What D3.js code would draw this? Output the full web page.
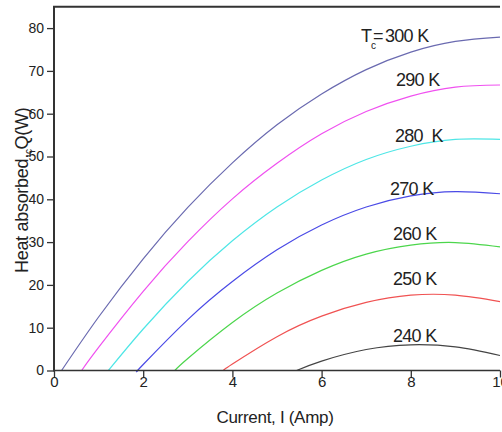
<!DOCTYPE html>
<html>
<head>
<meta charset="utf-8">
<script src="https://cdn.jsdelivr.net/npm/d3@7"></script>
<style>
    body { margin: 0; background: #fff; }
    text { font-family: "Liberation Sans", Arial, sans-serif; fill: #222; }
</style>
</head>
<body>
<div id="wrapper"></div>
<script>
// Current values (Amp) where each curve is sampled
const current300 = [0.17, 1, 2, 3, 4, 5, 6, 7, 8, 9, 10]
const heat300 = [0, 12.5, 26.1, 38.1, 48.5, 57.4, 64.6, 70.3, 74.4, 76.9, 77.9]

const current290 = [0.62, 1, 2, 3, 4, 5, 6, 7, 8, 9, 10]
const heat290 = [0, 5.4, 18.5, 30.1, 40.1, 48.4, 55.3, 60.5, 64.1, 66.2, 66.7]

const current280 = [1.22, 2, 3, 4, 5, 6, 7, 8, 9, 10]
const heat280 = [0, 9.7, 20.8, 30.3, 38.2, 44.5, 49.3, 52.4, 54.0, 54.0]

const current270 = [1.88, 2, 3, 4, 5, 6, 7, 8, 9, 10]
const heat270 = [0, 1.4, 11.9, 20.8, 28.2, 34.0, 38.2, 40.8, 41.8, 41.3]

const current260 = [2.71, 3, 4, 5, 6, 7, 8, 9, 10]
const heat260 = [0, 2.8, 11.2, 18.1, 23.4, 27.2, 29.3, 29.9, 28.9]

const current250 = [3.8, 4, 5, 6, 7, 8, 9, 10]
const heat250 = [0, 1.5, 7.9, 12.7, 15.9, 17.6, 17.6, 16.1]

const current240 = [5.44, 6, 7, 8, 9, 10]
const heat240 = [0, 2.2, 4.9, 6.0, 5.5, 3.5]

const curveLabels = ["300 K", "290 K", "280  K", "270 K", "260 K", "250 K", "240 K"]
const xTicks = [0, 2, 4, 6, 8, 10]
const yTicks = [0, 10, 20, 30, 40, 50, 60, 70, 80]

function drawChart() {
    // Put the series together
    const series = [
        { label: curveLabels[0], color: "#6a6ab0", x: current300, y: heat300 },
        { label: curveLabels[1], color: "#f050f0", x: current290, y: heat290 },
        { label: curveLabels[2], color: "#4ee6e6", x: current280, y: heat280 },
        { label: curveLabels[3], color: "#4a4ae6", x: current270, y: heat270 },
        { label: curveLabels[4], color: "#4cd64c", x: current260, y: heat260 },
        { label: curveLabels[5], color: "#f05252", x: current250, y: heat250 },
        { label: curveLabels[6], color: "#444444", x: current240, y: heat240 },
    ]
    series.forEach(s => {
        s.points = s.x.map((d, i) => ({ current: d, heat: s.y[i] }))
    })

    // Accessors
    const xAccessor = d => d.current
    const yAccessor = d => d.heat

    // Dimensions
    const dimensions = {
        width: 502,
        height: 432,
        margins: { top: 6.7, right: 2, left: 54, bottom: 61.5 }
    }
    dimensions.boundedWidth = dimensions.width
        - dimensions.margins.left
        - dimensions.margins.right
    dimensions.boundedHeight = dimensions.height
        - dimensions.margins.top
        - dimensions.margins.bottom

    const wrapper = d3.select("#wrapper").append("svg")
        .attr("width", dimensions.width)
        .attr("height", dimensions.height)

    const bounds = wrapper.append("g")
        .attr("transform", `translate(${dimensions.margins.left}, ${dimensions.margins.top})`)

    // Scales
    const xScale = d3.scaleLinear()
        .domain([0, 10])
        .range([0, 446])

    const yScale = d3.scaleLinear()
        .domain([0, 85])
        .range([dimensions.boundedHeight, 0])

    // Lines
    const lineGenerator = d3.line()
        .x(d => xScale(xAccessor(d)))
        .y(d => yScale(yAccessor(d)))
        .curve(d3.curveNatural)

    bounds.selectAll(".curve")
        .data(series)
        .join("path")
        .attr("class", "curve")
        .attr("d", d => lineGenerator(d.points))
        .attr("fill", "none")
        .attr("stroke", d => d.color)
        .attr("stroke-width", 1.2)

    // Axes
    const axisColor = "#333"
    const xAxis = bounds.append("g")
        .attr("transform", `translate(0, ${dimensions.boundedHeight})`)
    xAxis.call(d3.axisBottom(xScale).tickValues(d3.range(0, 11, 1)).tickSize(4).tickFormat(""))
    xAxis.call(d3.axisBottom(xScale).tickValues(xTicks).tickSize(7).tickFormat(d3.format("d")))
    xAxis.selectAll(".domain").remove()
    xAxis.append("line")
        .attr("x1", 0).attr("x2", dimensions.boundedWidth)
        .attr("stroke", axisColor).attr("stroke-width", 1.5)

    const yAxis = bounds.append("g")
    yAxis.call(d3.axisLeft(yScale).tickValues(d3.range(0, 85, 5)).tickSize(4).tickFormat(""))
    yAxis.call(d3.axisLeft(yScale).tickValues(yTicks).tickSize(7).tickFormat(d3.format("d")))
    yAxis.selectAll(".domain").remove()
    yAxis.append("line")
        .attr("y1", 0).attr("y2", dimensions.boundedHeight + 1)
        .attr("stroke", axisColor).attr("stroke-width", 2)

    // top frame line
    bounds.append("line")
        .attr("x1", -1).attr("x2", dimensions.boundedWidth)
        .attr("y1", 0).attr("y2", 0)
        .attr("stroke", axisColor).attr("stroke-width", 2)

    bounds.selectAll(".tick line").attr("stroke", axisColor).attr("stroke-width", 1.3)
    xAxis.selectAll(".tick text")
        .attr("y", 16.5)
        .attr("dy", 0)
        .style("font-size", "15px")
        .style("font-family", "Liberation Sans, Arial, sans-serif")
        .attr("fill", "#222")
    yAxis.selectAll(".tick text")
        .attr("x", -10)
        .style("font-size", "14px")
        .style("font-family", "Liberation Sans, Arial, sans-serif")
        .attr("fill", "#222")

    // Curve labels (first one gets the "Tc =" prefix below)
    const labelPos = [
        [385, 42], [396, 86], [395, 142], [390, 195], [393, 240], [393, 285], [393, 341.5]
    ]
    series.forEach((s, i) => {
        wrapper.append("text")
            .attr("x", labelPos[i][0])
            .attr("y", labelPos[i][1])
            .style("font-size", "18px")
            .style("letter-spacing", "-0.7px")
            .style("white-space", "pre")
            .text(s.label)
    })
    const tc = wrapper.append("text")
        .attr("y", 42)
        .style("font-size", "18px")
    tc.append("tspan").attr("x", 361).text("T")
    tc.append("tspan").attr("x", 371).attr("dy", 7).style("font-size", "10px").text("c")
    tc.append("tspan").attr("x", 373).attr("dy", -7).text("=")

    // Axis titles
    wrapper.append("text")
        .attr("x", 275)
        .attr("y", 423)
        .attr("text-anchor", "middle")
        .style("font-size", "17px")
        .style("letter-spacing", "-0.3px")
        .text("Current, I (Amp)")

    const yLabel = wrapper.append("text")
        .attr("transform", "translate(28, 273) rotate(-90)")
        .style("font-size", "18px")
        .style("letter-spacing", "-0.3px")
    yLabel.append("tspan").text("Heat absorbed,")
    yLabel.append("tspan").attr("dy", 4).style("font-size", "10px").text("c")
    yLabel.append("tspan").attr("dy", -4).text("Q(W)")
}

drawChart()
</script>
</body>
</html>
